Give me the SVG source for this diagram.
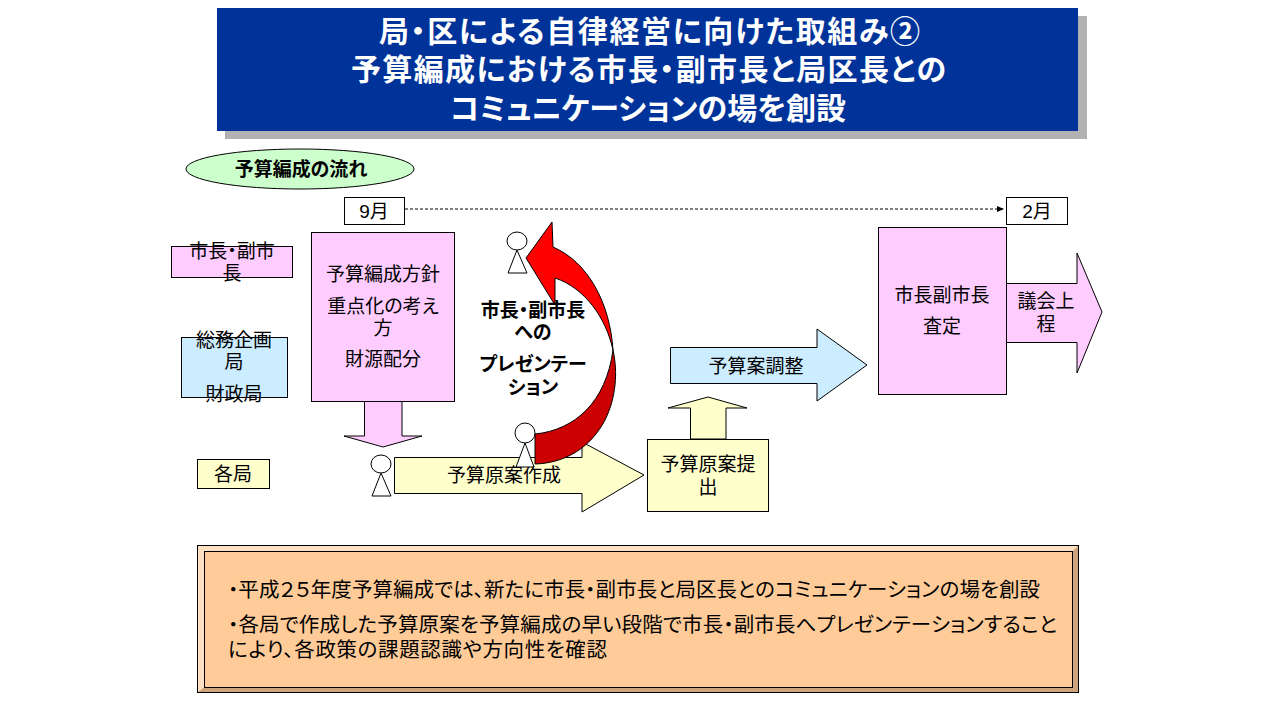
<svg xmlns="http://www.w3.org/2000/svg" width="1280" height="720" viewBox="0 0 1280 720">
<style>
text{font-family:"Liberation Sans","Noto Sans CJK JP",sans-serif;font-size:19px;fill:#000;text-anchor:middle;font-feature-settings:"palt"}
.t{font-size:30px;font-weight:bold;fill:#fff}
.b{font-weight:bold}
.n{font-size:20.5px;text-anchor:start}
.s{stroke:#000;stroke-width:1}
.pk{fill:#FFCCFF}.bl{fill:#CCECFF}.ye{fill:#FFFFCC}.wh{fill:#fff}
</style>
<defs><marker id="ah" markerWidth="7" markerHeight="6" refX="6" refY="3" orient="auto"><path d="M0 0L7 3L0 6Z" fill="#000"/></marker></defs>
<rect width="1280" height="720" fill="#fff"/>
<g id="title">
<rect x="225" y="16" width="862" height="123" fill="#B2B2B2"/>
<rect x="217" y="8" width="861" height="123" fill="#003399"/>
<text class="t" x="649.500" y="42" textLength="541">局・区による自律経営に向けた取組み②</text>
<text class="t" x="648.500" y="80" textLength="595">予算編成における市長・副市長と局区長との</text>
<text class="t" x="648" y="119" textLength="396">コミュニケーションの場を創設</text>
</g>
<g id="flow-label"><ellipse class="s" cx="300" cy="169" rx="114" ry="20" fill="#CCFFCC"/><text class="b" x="301" y="176">予算編成の流れ</text></g>
<g id="connectors"><path d="M405 209H1003" fill="none" stroke="#000" stroke-width="1" stroke-dasharray="3 2" marker-end="url(#ah)"/></g>
<g id="sep"><rect class="s wh" x="344.500" y="197.500" width="60" height="27"/><text x="374" y="218">9月</text></g>
<g id="feb"><rect class="s wh" x="1006.500" y="197.500" width="61" height="27"/><text x="1037" y="218">2月</text></g>
<g id="role-mayor"><rect class="s pk" x="171.500" y="246.500" width="121" height="31"/><text x="232" y="258">市長・副市</text><text x="232" y="280">長</text></g>
<g id="role-finance"><rect class="s bl" x="181.500" y="337.500" width="106" height="60"/><text x="234" y="347">総務企画</text><text x="234" y="369">局</text><text x="234" y="401">財政局</text></g>
<g id="role-bureaus"><rect class="s ye" x="197.500" y="459.500" width="72" height="29"/><text x="233" y="481">各局</text></g>
<g id="arrow-down"><path class="s pk" d="M364.500 401V436H344L383 447L422 436H402V401Z"/></g>
<g id="policy"><rect class="s pk" x="311.500" y="232.500" width="143" height="169"/><text x="383" y="281">予算編成方針</text><text x="383" y="313">重点化の考え</text><text x="383" y="335">方</text><text x="383" y="366">財源配分</text></g>
<g id="draft"><path class="s ye" d="M394.500 457.500H582V442L644 475L582 512V493.500H394.500Z"/><text x="504" y="482">予算原案作成</text></g>
<g id="person-1"><ellipse class="s wh" cx="381" cy="464" rx="10" ry="9"/><path class="s wh" d="M381 473L372 496H391Z"/></g>
<g id="curved-arrow">
<path d="M535 434C575 430 606 402 613 350C618 372 616 398 605 420C591 447 566 463 535 464Z" fill="#CC0000" stroke="#000" stroke-width="1"/>
<path d="M526 258L552 222L553 247C588 262 610 303 613 350C606 318 585 288 555 278L555 305Z" fill="#FF0000" stroke="#000" stroke-width="1"/>
</g>
<g id="person-2"><ellipse class="s wh" cx="525" cy="433" rx="10" ry="10"/><path class="s wh" d="M525 443L516 467H534Z"/></g>
<g id="person-3"><ellipse class="s wh" cx="517" cy="241" rx="10" ry="9"/><path class="s wh" d="M517 250L508 273H527Z"/></g>
<g id="presentation"><text class="b" x="533" y="317">市長・副市長</text><text class="b" x="533" y="339">への</text><text class="b" x="533" y="371">プレゼンテー</text><text class="b" x="533" y="394">ション</text></g>
<g id="submit"><path class="s ye" d="M690.500 439V408H668L708 397L747 408H726V439Z"/><rect class="s ye" x="647.500" y="439.500" width="121" height="72"/><text x="708" y="471">予算原案提</text><text x="708" y="494">出</text></g>
<g id="adjust"><path class="s bl" d="M670.500 347.500H817V329L867 365L817 401V383.500H670.500Z"/><text x="756" y="373">予算案調整</text></g>
<g id="review"><rect class="s pk" x="878.500" y="227.500" width="128" height="167"/><text x="942" y="302">市長副市長</text><text x="942" y="333">査定</text></g>
<g id="submit-assembly"><path class="s pk" d="M1006.500 283.500H1077V253L1102 312L1077 373V342.500H1006.500Z"/><text x="1046" y="308">議会上</text><text x="1046" y="331">程</text></g>
<g id="summary">
<rect x="197.500" y="545.500" width="881" height="147" fill="#FFCC99" stroke="#000"/>
<path d="M198 546H1078L1072 552H205V687L198 692Z" fill="#FFE0C2"/>
<path d="M1078 546V692H198L205 687H1072V552Z" fill="#CCA37A"/>
<rect x="204.500" y="551.500" width="868" height="136" fill="#FFCC99" stroke="#000"/>
<rect x="197.500" y="545.500" width="881" height="147" fill="none" stroke="#000"/>
<text class="n" x="228" y="597" textLength="812">・平成２５年度予算編成では、新たに市長・副市長と局区長とのコミュニケーションの場を創設</text>
<text class="n" x="228" y="632" textLength="829">・各局で作成した予算原案を予算編成の早い段階で市長・副市長へプレゼンテーションすること</text>
<text class="n" x="228" y="657" textLength="379">により、各政策の課題認識や方向性を確認</text>
</g>
</svg>
